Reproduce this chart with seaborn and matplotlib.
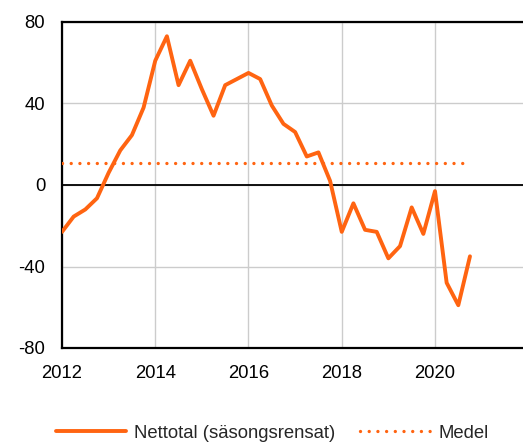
import numpy as np
import pandas as pd
import matplotlib
matplotlib.use("Agg")
import matplotlib.pyplot as plt
import seaborn as sns

# Quarterly data 2012Q1 - 2020Q4
start_year = 2012
netto = [-23, -15.5, -12, -6.5,
         6, 17, 24.5, 38,
         61, 73, 49, 61,
         47, 34, 49, 52,
         55, 52, 39, 30,
         26, 14, 16, 2,
         -23, -9, -22, -23,
         -36, -30, -11, -24,
         -3, -48, -59, -35]
medel_value = 11
x_ticks = [2012, 2014, 2016, 2018, 2020]
y_ticks = [-80, -40, 0, 40, 80]
labels = ["Nettotal (säsongsrensat)", "Medel"]

orange = "#FF6411"

df = pd.DataFrame({
    "t": start_year + np.arange(len(netto)) / 4,
    "netto": netto,
})
df["medel"] = medel_value

sns.set_style("white")
plt.rcParams["font.family"] = ["Liberation Sans", "DejaVu Sans"]

fig = plt.figure(figsize=(5.23, 4.42), dpi=100)
ax = fig.add_axes([62 / 523, 1 - 348 / 442, 1 - 62 / 523, (348 - 22) / 442])

ax.axhline(0, color="black", lw=1.3, zorder=1)
sns.lineplot(data=df, x="t", y="netto", ax=ax, color=orange, lw=2.8,
             label=labels[0], zorder=3)
sns.lineplot(data=df, x="t", y="medel", ax=ax, color=orange, lw=2.4,
             linestyle=(0, (0.01, 2.6)), dash_capstyle="round",
             label=labels[1], zorder=3)
ax.lines[-1].set_dash_capstyle("round")

ax.set_xlim(2012, 2012 + 461 / 46.625)
ax.set_ylim(-80, 80)
ax.set_xticks(x_ticks)
ax.set_yticks(y_ticks)
ax.set_xticklabels([str(v) for v in x_ticks])
ax.set_yticklabels([str(v) for v in y_ticks])
ax.tick_params(length=0, labelsize=13.3, pad=12, colors="black")
ax.set_xlabel("")
ax.set_ylabel("")
ax.grid(True, color="#cccccc", lw=1)
ax.set_axisbelow(True)

for side in ["left", "top", "bottom"]:
    ax.spines[side].set_visible(True)
    ax.spines[side].set_color("black")
    ax.spines[side].set_linewidth(1.6)
ax.spines["right"].set_visible(False)

ax.get_legend().remove()
handles, lbls = ax.get_legend_handles_labels()
leg = fig.legend(handles, lbls, loc="center", bbox_to_anchor=(272 / 523, 1 - 433 / 442),
                 ncol=2, frameon=False, fontsize=13.3, handlelength=3.8,
                 handletextpad=0.45, columnspacing=1.3, borderaxespad=0)
for h in leg.get_lines():
    h.set_dash_capstyle("round")

fig.savefig("out.png", dpi=100)
